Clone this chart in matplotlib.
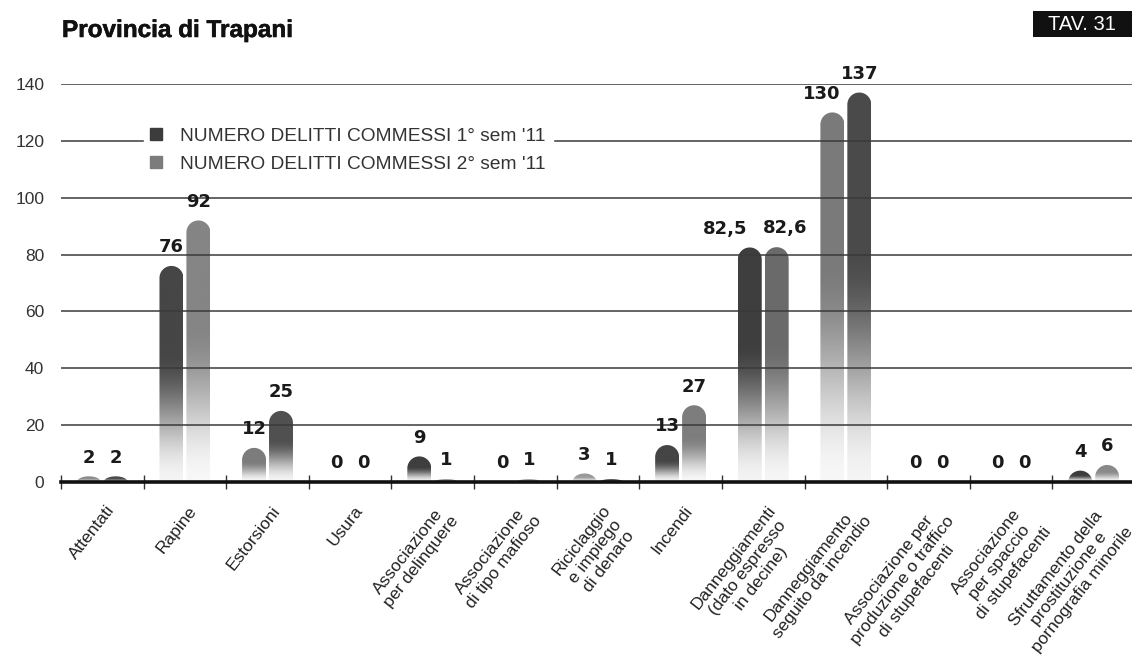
import numpy as np
import matplotlib
matplotlib.use('Agg')
import matplotlib.pyplot as plt
import matplotlib.patheffects as pe
from matplotlib.path import Path
from matplotlib.patches import PathPatch, Rectangle
from matplotlib.lines import Line2D
from matplotlib.colors import to_rgb

plt.rcParams['font.family'] = ['Liberation Sans', 'DejaVu Sans']

# data
categories = ['Attentati', 'Rapine', 'Estorsioni', 'Usura',
              'Associazione\nper delinquere', 'Associazione\ndi tipo mafioso',
              'Riciclaggio\ne impiego\ndi denaro', 'Incendi',
              'Danneggiamenti\n(dato espresso\nin decine)',
              'Danneggiamento\nseguito da incendio',
              'Associazione per\nproduzione o traffico\ndi stupefacenti',
              'Associazione\nper spaccio\ndi stupefacenti',
              'Sfruttamento della\nprostituzione e\npornografia minorile']
sem1 = [2, 76, 12, 0, 9, 0, 3, 13, 82.5, 130, 0, 0, 4]
sem2 = [2, 92, 25, 0, 1, 1, 1, 27, 82.6, 137, 0, 0, 6]
series_names = ["NUMERO DELITTI COMMESSI 1° sem '11", "NUMERO DELITTI COMMESSI 2° sem '11"]
yticks = [0, 20, 40, 60, 80, 100, 120, 140]

# bar shades (the printed chart is not consistent between categories)
shades1 = ['#8c8c8c', '#464646', '#7c7c7c', '#444444', '#3e3e3e', '#999999', '#9a9a9a',
           '#454545', '#3e3e3e', '#7a7a7a', '#444444', '#444444', '#3c3c3c']
shades2 = ['#4a4a4a', '#858585', '#505050', '#888888', '#909090', '#9a9a9a', '#404040',
           '#7d7d7d', '#6a6a6a', '#4a4a4a', '#888888', '#888888', '#8a8a8a']
legend_colors = ['#3c3c3c', '#7c7c7c']
# sideways nudges (points) for value labels that would collide: (series, category) -> dx
label_nudge = {(0, 8): -18, (1, 8): 6, (0, 9): -8}

W, H = 1132, 663
fig = plt.figure(figsize=(W / 100, H / 100), dpi=100)
ax = fig.add_axes([61 / W, (H - 482) / H, 1074 / W, 398 / H])

x = np.arange(len(categories))
width = 0.29
off = 0.163
ax.set_xlim(-0.5, len(categories) - 0.5)
ax.set_ylim(0, 140)

bars1 = ax.bar(x - off, sem1, width, color='none', edgecolor='none')
bars2 = ax.bar(x + off, sem2, width, color='none', edgecolor='none')


def gradient_bar(rect, color):
    v = rect.get_height()
    if v <= 0:
        return
    x0 = rect.get_x()
    w = rect.get_width()
    x1 = x0 + w
    xc = x0 + w / 2
    # cap height in data units so the top looks round on screen
    p0 = ax.transData.transform((0, 0))
    p1 = ax.transData.transform((1, 1))
    ratio = (p1[0] - p0[0]) / (p1[1] - p0[1])
    h = min(w / 2 * ratio, v)
    th = np.linspace(np.pi, 0, 40)
    verts = [(x0, 0), (x0, v - h)] + list(zip(xc + w / 2 * np.cos(th), v - h + h * np.sin(th))) + [(x1, 0), (x0, 0)]
    codes = [Path.MOVETO] + [Path.LINETO] * (len(verts) - 2) + [Path.CLOSEPOLY]
    patch = PathPatch(Path(verts, codes), fc='none', ec='none')
    ax.add_patch(patch)
    t = np.linspace(0, 1, 200)[:, None]
    s = np.clip(t / 0.6, 0, 1)
    a = 0.06 + 0.94 * (s * s * (3 - 2 * s))
    c = np.array(to_rgb(color))
    img = 1 - a[:, :, None] * (1 - c[None, None, :])
    img = np.repeat(img, 2, axis=1)
    im = ax.imshow(img, extent=(x0, x1, 0, v), origin='lower', aspect='auto',
                   interpolation='bilinear', zorder=1)
    im.set_clip_path(patch)


for rect, col in zip(bars1, shades1):
    gradient_bar(rect, col)
for rect, col in zip(bars2, shades2):
    gradient_bar(rect, col)

ax.set_xlim(-0.5, len(categories) - 0.5)
ax.set_ylim(0, 140)


def fmt(v):
    return f'{v:g}'.replace('.', ',')


for si, (bars, vals) in enumerate([(bars1, sem1), (bars2, sem2)]):
    for ci, (rect, v) in enumerate(zip(bars, vals)):
        dx = label_nudge.get((si, ci), 0)
        ax.annotate(fmt(v), (rect.get_x() + rect.get_width() / 2, v),
                    xytext=(dx, 7), textcoords='offset points', ha='center', va='bottom',
                    fontsize=13, fontweight='heavy', family=['DejaVu Sans'], color='#1a1a1a',
                    annotation_clip=False, zorder=6)

# grid and axes
ax.set_yticks(yticks)
ax.yaxis.grid(True, color='#3a3a3a', lw=1.1)
ax.set_axisbelow(False)
for sp in ['top', 'right', 'left']:
    ax.spines[sp].set_visible(False)
ax.spines['bottom'].set_linewidth(2.6)
ax.spines['bottom'].set_color('#111111')
ax.spines['bottom'].set_zorder(5)
ax.tick_params(axis='y', length=0, pad=12, labelsize=12.5, labelcolor='#333333')

ax.set_xticks(np.arange(len(categories) + 1) - 0.5)
ax.set_xticklabels([])
ax.tick_params(axis='x', which='major', direction='inout', length=10, width=1, color='#333333')
ax.set_xticks(x + 0.04, minor=True)
ax.set_xticklabels(categories, minor=True)
ax.tick_params(axis='x', which='minor', length=0, pad=15)
for lab in ax.get_xticklabels(minor=True):
    lab.set_rotation(52)
    lab.set_ha('right')
    lab.set_va('top')
    lab.set_rotation_mode('anchor')
    lab.set_multialignment('center')
    lab.set_fontsize(12.5)
    lab.set_color('#222222')

# legend
handles = [Line2D([], [], marker='s', ls='none', markersize=8, color=c) for c in legend_colors]
leg = ax.legend(handles, series_names, loc='upper left',
                bbox_to_anchor=(144 / W, 1 - 121 / H), bbox_transform=fig.transFigure,
                frameon=True, fancybox=False, framealpha=1, edgecolor='white',
                fontsize=13.8, borderpad=0.35, handlelength=0.6, handletextpad=0.95,
                labelspacing=0.55, borderaxespad=0)
leg.set_zorder(7)
for t in leg.get_texts():
    t.set_color('#333333')

# title and table tag
fig.text(62 / W, 1 - 37 / H, 'Provincia di Trapani', fontsize=17.5, fontweight='bold',
         va='baseline', ha='left', color='#111111',
         path_effects=[pe.withStroke(linewidth=0.4, foreground='#111111')])
fig.patches.append(Rectangle((1033 / W, 1 - 37 / H), 99 / W, 26 / H,
                             transform=fig.transFigure, facecolor='#111111', edgecolor='none'))
fig.text(1082 / W, 1 - 24 / H, 'TAV. 31', fontsize=14.5, color='white', ha='center', va='center')

fig.savefig('out.png', dpi=100)
